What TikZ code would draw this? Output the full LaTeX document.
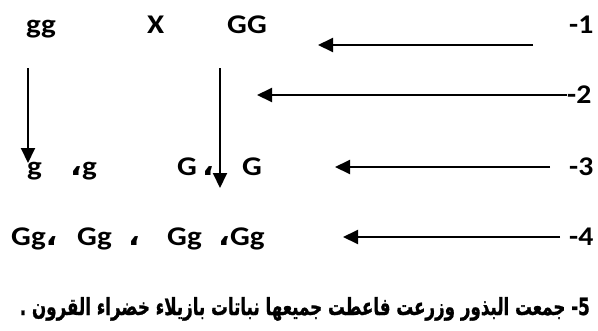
\documentclass[tikz,border=0pt]{standalone}
\usepackage{fontspec}
\setmainfont{Carlito}
\newfontfamily\arabicfont[Script=Arabic]{DejaVu Sans}
\newfontfamily\arabicheavy[Script=Arabic,FakeBold=1.2]{DejaVu Sans Bold}
\TeXXeTstate=1
\usetikzlibrary{arrows.meta}
\tikzset{
  lbl/.style={inner sep=0pt, anchor=base west, font=\fontsize{27}{27}\selectfont\bfseries, xscale=1.15, transform shape},
  num/.style={inner sep=0pt, anchor=base west, font=\fontsize{27}{27}\selectfont\bfseries, xscale=1.1, transform shape},
  arr/.style={line width=2pt, -{Triangle[length=15pt,width=14pt]}},
}
\newcommand{\acomma}{{\arabicfont\bfseries ،}}
\begin{document}
\begin{tikzpicture}[x=1pt,y=-1pt]
\useasboundingbox (0,0) rectangle (598,330);
% row 1
\node[lbl] (gg) at (26,33) {gg};
\node[lbl] (X) at (147,33) {X};
\node[lbl] (GG) at (227,33) {GG};
\node[num] (n1) at (569,33) {-1};
% row 2
\node[num] (n2) at (567,103) {-2};
% row 3
\node[lbl] (g1) at (27,175) {g};
\node[lbl] (g2) at (70,175) {\acomma g};
\node[lbl] (G1) at (177,175) {G\,\acomma};
\node[lbl] (G2) at (242,175) {G};
\node[num] (n3) at (569,175) {-3};
% row 4
\node[lbl] (r4a) at (11,245) {Gg\acomma};
\node[lbl] (r4b) at (77,245) {Gg};
\node[lbl] (r4c) at (128,245) {\acomma};
\node[lbl] (r4d) at (167,245) {Gg};
\node[lbl] (r4e) at (218,245) {\acomma Gg};
\node[num] (n4) at (569,245) {-4};
% row 5
\node[inner sep=0pt, anchor=base east] (r5) at (590,315)
  {\resizebox{570pt}{18pt}{\fontsize{18}{18}\selectfont\arabicheavy\beginR 5- جمعت البذور وزرعت فاعطت جميعها نباتات بازيلاء خضراء القرون .\endR}};
% arrow coordinates
\coordinate (a1s) at (533,45); \coordinate (a1e) at (318,45);
\coordinate (a2s) at (567,95); \coordinate (a2e) at (257,95);
\coordinate (a3s) at (550,167); \coordinate (a3e) at (335,167);
\coordinate (a4s) at (560,237); \coordinate (a4e) at (343,237);
\coordinate (vls) at (28,68); \coordinate (vle) at (28,163);
\coordinate (vrs) at (220,68); \coordinate (vre) at (220,188);
\draw[arr] (a1s) -- (a1e);
\draw[arr] (a2s) -- (a2e);
\draw[arr] (a3s) -- (a3e);
\draw[arr] (a4s) -- (a4e);
\draw[arr] (vls) -- (vle);
\draw[arr] (vrs) -- (vre);
\end{tikzpicture}
\end{document}
